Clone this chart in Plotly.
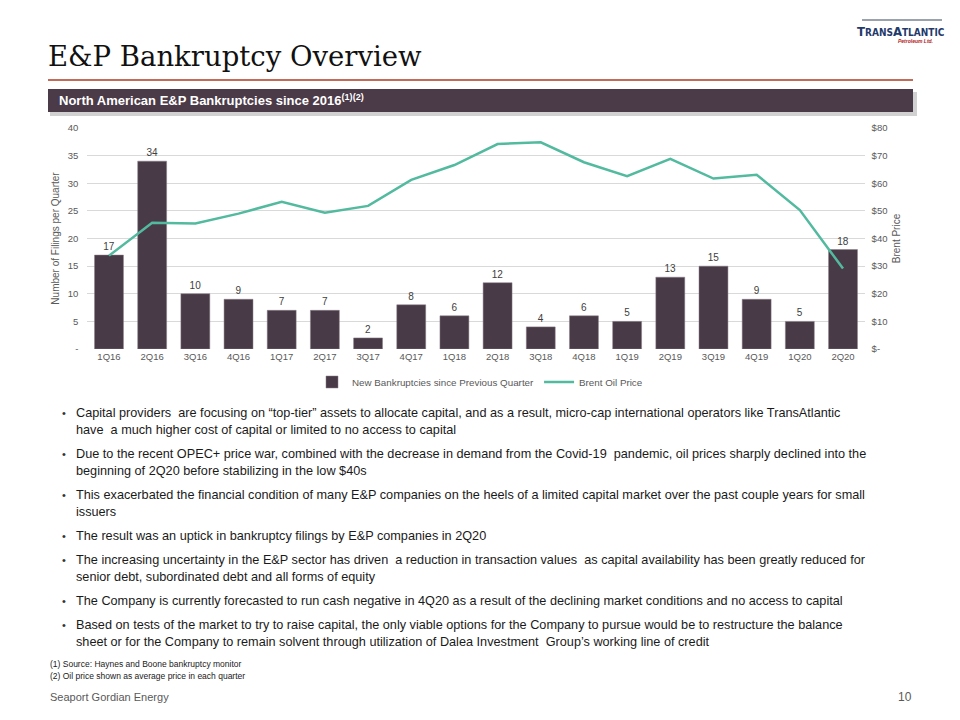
import plotly.graph_objects as go

quarters = ["1Q16","2Q16","3Q16","4Q16","1Q17","2Q17","3Q17","4Q17","1Q18",
            "2Q18","3Q18","4Q18","1Q19","2Q19","3Q19","4Q19","1Q20","2Q20"]
bankruptcies = [17, 34, 10, 9, 7, 7, 2, 8, 6, 12, 4, 6, 5, 13, 15, 9, 5, 18]
brent = [33.8, 45.7, 45.4, 49.0, 53.3, 49.3, 51.8, 61.2, 66.6,
         74.2, 74.8, 67.6, 62.6, 68.8, 61.7, 63.1, 50.3, 29.1]

left_ticks = [0, 5, 10, 15, 20, 25, 30, 35, 40]
left_labels = ["-", "5", "10", "15", "20", "25", "30", "35", "40"]
right_ticks = [0, 10, 20, 30, 40, 50, 60, 70, 80]
right_labels = ["$-", "$10", "$20", "$30", "$40", "$50", "$60", "$70", "$80"]

bullets = [
    ["Capital providers  are focusing on \u201ctop-tier\u201d assets to allocate capital, and as a result, micro-cap international operators like TransAtlantic",
     "have  a much higher cost of capital or limited to no access to capital"],
    ["Due to the recent OPEC+ price war, combined with the decrease in demand from the Covid-19  pandemic, oil prices sharply declined into the",
     "beginning of 2Q20 before stabilizing in the low $40s"],
    ["This exacerbated the financial condition of many E&P companies on the heels of a limited capital market over the past couple years for small",
     "issuers"],
    ["The result was an uptick in bankruptcy filings by E&P companies in 2Q20"],
    ["The increasing uncertainty in the E&P sector has driven  a reduction in transaction values  as capital availability has been greatly reduced for",
     "senior debt, subordinated debt and all forms of equity"],
    ["The Company is currently forecasted to run cash negative in 4Q20 as a result of the declining market conditions and no access to capital"],
    ["Based on tests of the market to try to raise capital, the only viable options for the Company to pursue would be to restructure the balance",
     "sheet or for the Company to remain solvent through utilization of Dalea Investment  Group\u2019s working line of credit"],
]
footnotes = ["(1) Source: Haynes and Boone bankruptcy monitor",
             "(2) Oil price shown as average price in each quarter"]

W, H = 960, 720
OFF = 8  # page body margin offset
def px(x): return (x - OFF) / W
def py(y): return 1 - (y - OFF) / H

BAR = "#483A46"
LINE = "#52BA9E"
GRID = "#D9D9D9"
TXT = "#595959"
FONT = "Liberation Sans"

fig = go.Figure()
fig.add_trace(go.Bar(x=quarters, y=bankruptcies, name="New Bankruptcies since Previous Quarter",
                     marker=dict(color=BAR, line=dict(color="#8A7E88", width=0.5)),
                     text=bankruptcies, textposition="outside",
                     textfont=dict(size=10, color="#404040", family=FONT),
                     cliponaxis=False, yaxis="y"))
fig.add_trace(go.Scatter(x=quarters, y=brent, name="Brent Oil Price", mode="lines",
                         line=dict(color=LINE, width=2.5), yaxis="y2"))

annotations = []
annotations.append(dict(x=px(46), y=py(56), xref="paper", yref="paper", xanchor="left", yanchor="middle",
                        text="E&P Bankruptcy Overview", showarrow=False,
                        font=dict(family="DejaVu Serif", size=27.5, color="#111111")))
annotations.append(dict(x=px(57), y=py(100), xref="paper", yref="paper", xanchor="left", yanchor="middle",
                        text="<b>North American E&P Bankruptcies since 2016<sup>(1)(2)</sup></b>", showarrow=False,
                        font=dict(family=FONT, size=13, color="white")))
annotations.append(dict(x=px(901), y=py(31), xref="paper", yref="paper", xanchor="center", yanchor="middle",
                        text="<b>T<span style='font-size:10px'>RANS</span>A<span style='font-size:10px'>TLANTIC</span></b>",
                        showarrow=False, font=dict(family="DejaVu Sans Condensed, DejaVu Sans", size=13, color="#1F3A6B")))
annotations.append(dict(x=px(915), y=py(41), xref="paper", yref="paper", xanchor="center", yanchor="middle",
                        text="<i><b>Petroleum Ltd.</b></i>", showarrow=False,
                        font=dict(family=FONT, size=5, color="#B22222")))

y0 = 413
for lines in bullets:
    annotations.append(dict(x=px(60), y=py(y0), xref="paper", yref="paper", xanchor="left", yanchor="middle",
                            text="\u2022", showarrow=False, font=dict(family=FONT, size=11, color="#333333")))
    for i, ln in enumerate(lines):
        annotations.append(dict(x=px(74), y=py(y0 + 17 * i), xref="paper", yref="paper",
                                xanchor="left", yanchor="middle", text=ln, showarrow=False,
                                font=dict(family=FONT, size=12.7, color="#1a1a1a")))
    y0 += 17 * (len(lines) - 1) + 24

for i, f in enumerate(footnotes):
    annotations.append(dict(x=px(48), y=py(664 + 12 * i), xref="paper", yref="paper", xanchor="left",
                            yanchor="middle", text=f, showarrow=False,
                            font=dict(family=FONT, size=8.5, color="#1a1a1a")))
annotations.append(dict(x=px(48), y=py(697), xref="paper", yref="paper", xanchor="left", yanchor="middle",
                        text="Seaport Gordian Energy", showarrow=False,
                        font=dict(family=FONT, size=11, color=TXT)))
annotations.append(dict(x=px(914), y=py(697), xref="paper", yref="paper", xanchor="right", yanchor="middle",
                        text="10", showarrow=False, font=dict(family=FONT, size=12, color=TXT)))

shapes = [
    dict(type="rect", xref="paper", yref="paper", x0=px(48), x1=px(913), y0=py(81), y1=py(79),
         fillcolor="#C46A59", line=dict(width=0)),
    dict(type="rect", xref="paper", yref="paper", x0=px(50), x1=px(917), y0=py(116), y1=py(92),
         fillcolor="rgba(0,0,0,0.18)", line=dict(width=0)),
    dict(type="rect", xref="paper", yref="paper", x0=px(48), x1=px(913), y0=py(112), y1=py(89),
         fillcolor="#4B3A47", line=dict(width=0)),
    dict(type="rect", xref="paper", yref="paper", x0=px(862), x1=px(942), y0=py(21), y1=py(19),
         fillcolor="#9AA3AD", line=dict(width=0)),
]

fig.update_layout(
    width=W, height=H, margin=dict(l=0, r=0, t=0, b=0, pad=0, autoexpand=False),
    paper_bgcolor="white", plot_bgcolor="white",
    bargap=0.33, showlegend=True,
    legend=dict(orientation="h", x=px(480), xanchor="center", y=py(382), yanchor="middle",
                font=dict(family=FONT, size=9.8, color=TXT), itemwidth=30, traceorder="normal"),
    xaxis=dict(domain=[px(87.4), px(864.6)], showgrid=False, showline=False, ticks="", automargin=False,
               tickfont=dict(family=FONT, size=9.5, color=TXT)),
    yaxis=dict(domain=[py(349), py(128)], range=[0, 40], tickvals=left_ticks, ticktext=left_labels,
               showgrid=True, gridcolor=GRID, gridwidth=1, zeroline=False, showline=False, automargin=False,
               tickfont=dict(family=FONT, size=9.5, color=TXT), ticklabelstandoff=8,
               title=dict(text="Number of Filings per Quarter", font=dict(family=FONT, size=10, color=TXT), standoff=6)),
    yaxis2=dict(overlaying="y", side="right", range=[0, 80], tickvals=right_ticks, ticktext=right_labels,
                showgrid=False, zeroline=False, showline=False, automargin=False,
                tickfont=dict(family=FONT, size=9.5, color=TXT), ticklabelstandoff=6,
                title=dict(text="Brent Price", font=dict(family=FONT, size=10, color=TXT), standoff=6)),
    annotations=annotations, shapes=shapes,
)

fig.write_html("out.html")
